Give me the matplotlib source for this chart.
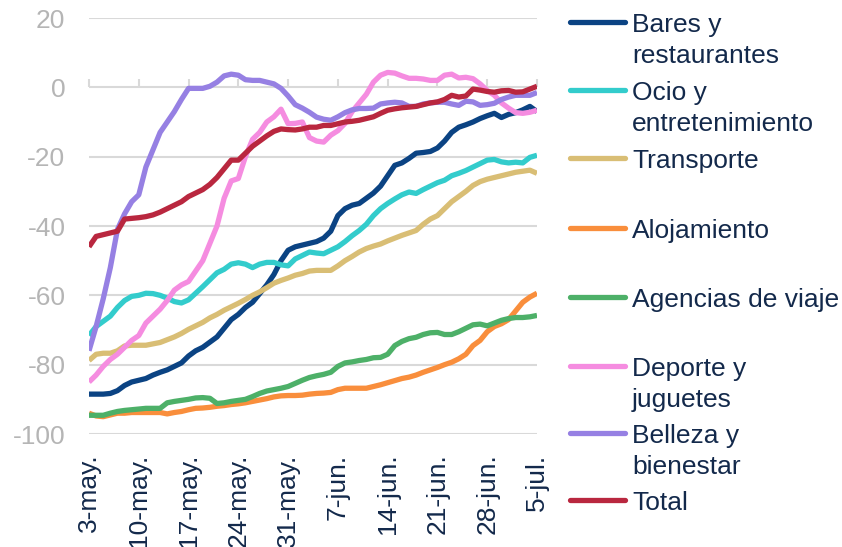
import matplotlib
matplotlib.use("Agg")
import matplotlib.pyplot as plt
from matplotlib.lines import Line2D

plt.rcParams['font.family'] = ['Liberation Sans', 'DejaVu Sans']
plt.rcParams['axes.unicode_minus'] = False

# daily values, 3-may .. 5-jul (64 days)
bares = [-88.5, -88.5, -88.5, -88.3, -87.5, -86, -85, -84.5, -84, -83,
         -82.2, -81.5, -80.5, -79.5, -77.5, -76, -75, -73.5, -72, -69.5,
         -67, -65.5, -63.5, -62, -59.5, -57, -54, -50, -47, -46,
         -45.5, -45, -44.5, -43.5, -41.5, -37, -35, -34, -33.5, -32,
         -30.5, -28.5, -25.5, -22.5, -21.8, -20.5, -19, -18.8, -18.5, -17.5,
         -15.5, -13, -11.5, -10.8, -10, -9, -8.2, -7.5, -8.7, -7.8,
         -7.3, -6.5, -5.5, -7]
ocio = [-71.6, -69, -67.5, -66, -63.5, -61.5, -60.3, -60, -59.4, -59.5,
        -60, -60.8, -61.8, -62.2, -61.3, -59.4, -57.5, -55.5, -53.5, -52.5,
        -51, -50.6, -51, -52, -51, -50.5, -50.5, -51.2, -51.5, -49.5,
        -48.5, -47.5, -47.8, -48, -47, -46, -44.5, -42.8, -41.3, -39.5,
        -37, -35, -33.5, -32.2, -31, -30.2, -30.6, -29.5, -28.5, -27.5,
        -26.8, -25.5, -24.8, -24, -23, -22, -21, -20.8, -21.5, -21.8,
        -21.6, -21.8, -20.2, -19.6]
transporte = [-78.8, -77, -76.7, -76.7, -76, -74.6, -74.4, -74.4, -74.4, -74,
              -73.6, -72.8, -72, -71, -69.8, -68.8, -67.8, -66.5, -65.5, -64.3,
              -63.3, -62.3, -61.2, -60, -59, -57.8, -56.5, -55.7, -55, -54.2,
              -53.7, -53, -52.8, -52.8, -52.8, -51.5, -50, -48.8, -47.5, -46.5,
              -45.8, -45.2, -44.3, -43.5, -42.7, -42, -41.3, -39.5, -38, -37,
              -35, -33, -31.5, -30, -28.3, -27.2, -26.5, -26, -25.5, -25,
              -24.5, -24.2, -23.9, -24.8]
alojamiento = [-94, -94.8, -95, -94.5, -94, -94, -93.8, -93.8, -93.8, -93.8,
               -93.8, -94.2, -93.8, -93.5, -93, -92.6, -92.5, -92.3, -92, -91.8,
               -91.5, -91.3, -91, -90.6, -90.2, -89.8, -89.3, -89, -88.9, -88.9,
               -88.8, -88.5, -88.3, -88.2, -88, -87.2, -86.8, -86.8, -86.8, -86.8,
               -86.3, -85.8, -85.2, -84.6, -84, -83.6, -83, -82.2, -81.5, -80.8,
               -80, -79.3, -78.3, -77, -74.5, -73, -70.5, -69, -68.2, -67,
               -64.5, -62, -60.5, -59.4]
agencias = [-94.6, -94.6, -94.6, -94, -93.5, -93.2, -93, -92.8, -92.6, -92.6,
            -92.6, -91, -90.6, -90.3, -90, -89.6, -89.5, -89.7, -91.2, -91,
            -90.6, -90.3, -90, -89.2, -88.3, -87.6, -87.2, -86.8, -86.3, -85.4,
            -84.5, -83.7, -83.2, -82.8, -82.2, -80.5, -79.5, -79.2, -78.8, -78.5,
            -78, -77.9, -77, -74.5, -73.3, -72.5, -72.1, -71.3, -70.8, -70.7,
            -71.3, -71.3, -70.5, -69.5, -68.5, -68.3, -68.8, -68, -67.2, -66.7,
            -66.4, -66.4, -66.2, -65.8]
deporte = [-85, -83, -80.5, -78.5, -77, -75, -73, -71.6, -68, -66,
           -64, -61.5, -58.5, -57, -56, -53, -50, -45, -40, -32,
           -27, -26.3, -20, -15, -13, -10, -8.5, -6.3, -10.5, -10.4,
           -10, -14.5, -15.5, -15.8, -13.8, -12.5, -10.4, -7, -4.5, -2,
           1.5, 3.5, 4.3, 4.1, 3.3, 2.6, 2.6, 2.4, 2, 2,
           3.5, 3.8, 2.7, 2.9, 2.5, 1, -0.9, -2.3, -4.5, -6,
           -7.3, -7.5, -7.2, -6.6]
belleza = [-76, -69, -61, -52, -41, -36.5, -33, -31, -23, -18,
           -13, -10, -7, -3.5, -0.3, -0.3, -0.3, 0.3, 1.5, 3.3,
           3.8, 3.5, 2.2, 2, 2, 1.5, 1, -0.3, -2.5, -5,
           -6, -7.2, -8.6, -9.2, -9.5, -8.5, -7.3, -6.5, -6.1, -6.1,
           -6, -4.8, -4.5, -4.3, -4.5, -5.5, -5.5, -4.8, -4.5, -4.3,
           -4.3, -4.8, -5.2, -4, -4.2, -5.2, -5, -4.6, -3.5, -2.8,
           -2.3, -2.3, -2.3, -1.5]
total = [-46, -43, -42.5, -42, -41.5, -38, -37.8, -37.6, -37.3, -36.8,
         -36, -35, -34, -33, -31.5, -30.5, -29.5, -28, -26, -23.5,
         -21, -21, -19, -17, -15.5, -14, -12.7, -12, -12.2, -12.3,
         -12, -11.5, -11.5, -11, -11, -10.5, -10, -9.8, -9.5, -9,
         -8.5, -7.5, -6.6, -6.2, -5.9, -5.7, -5.5, -5, -4.5, -4.2,
         -3.5, -2.3, -2.8, -2.5, -0.5, -0.8, -1.2, -1.4, -1, -0.9,
         -1.4, -1.3, -0.5, 0.3]

labels = ["Bares y\nrestaurantes", "Ocio y\nentretenimiento", "Transporte",
          "Alojamiento", "Agencias de viaje", "Deporte y\njuguetes",
          "Belleza y\nbienestar", "Total"]
series = [bares, ocio, transporte, alojamiento, agencias, deporte, belleza, total]
colors = ["#0B4383", "#33CCCC", "#D9BE75", "#F98E3C", "#4DB068",
          "#F58CE0", "#9680E3", "#B9273F"]
tick_labels = ["3-may.", "10-may.", "17-may.", "24-may.", "31-may.",
               "7-jun.", "14-jun.", "21-jun.", "28-jun.", "5-jul."]

W, H = 842, 547
fig = plt.figure(figsize=(W / 100, H / 100), dpi=100)
ax = fig.add_axes([89 / W, 1 - 434 / H, (537 - 89) / W, (434 - 18) / H])

days = list(range(len(total)))
for vals, c in zip(series, colors):
    ax.plot(days, vals, color=c, lw=3.8, solid_capstyle='butt', solid_joinstyle='round')

ax.set_xlim(0, len(total) - 1)
ax.set_ylim(-100, 20)
ax.set_yticks(range(-100, 21, 20))
ax.grid(axis='y', color='#D9D9D9', lw=1.5)
ax.set_axisbelow(True)
for s in ax.spines.values():
    s.set_visible(False)
ax.tick_params(axis='y', length=0, pad=17, labelsize=19, labelcolor='#B5B5B5')
ax.set_xticks(range(0, len(total), 7))
ax.set_xticklabels(tick_labels, rotation=90)
ax.tick_params(axis='x', length=0, pad=14, labelsize=19, labelcolor='#13294B')

# horizontal axis crossing at 0 with weekly ticks
sec = ax.secondary_xaxis(100 / 120)
sec.set_xticks(range(0, len(total), 7))
sec.set_xticklabels([])
sec.tick_params(axis='x', direction='out', length=6, width=1.5, color='#D9D9D9')
sec.spines['bottom'].set_color('#D9D9D9')
sec.spines['bottom'].set_linewidth(1.5)
for k in ['top', 'left', 'right']:
    sec.spines[k].set_visible(False)

# legend drawn at the right
handle_y = [22, 90, 158, 228, 297, 366, 433, 500]
for lab, c, hy in zip(labels, colors, handle_y):
    fig.add_artist(Line2D([570 / W, 625 / W], [1 - hy / H, 1 - hy / H], color=c,
                          lw=3.8, solid_capstyle='round', transform=fig.transFigure))
    for i, line in enumerate(lab.split("\n")):
        fig.text(632 / W, 1 - (hy + 10 + 31 * i) / H, line, fontsize=19,
                 color='#13294B', va='baseline', ha='left')

fig.savefig("out.png", dpi=100)
